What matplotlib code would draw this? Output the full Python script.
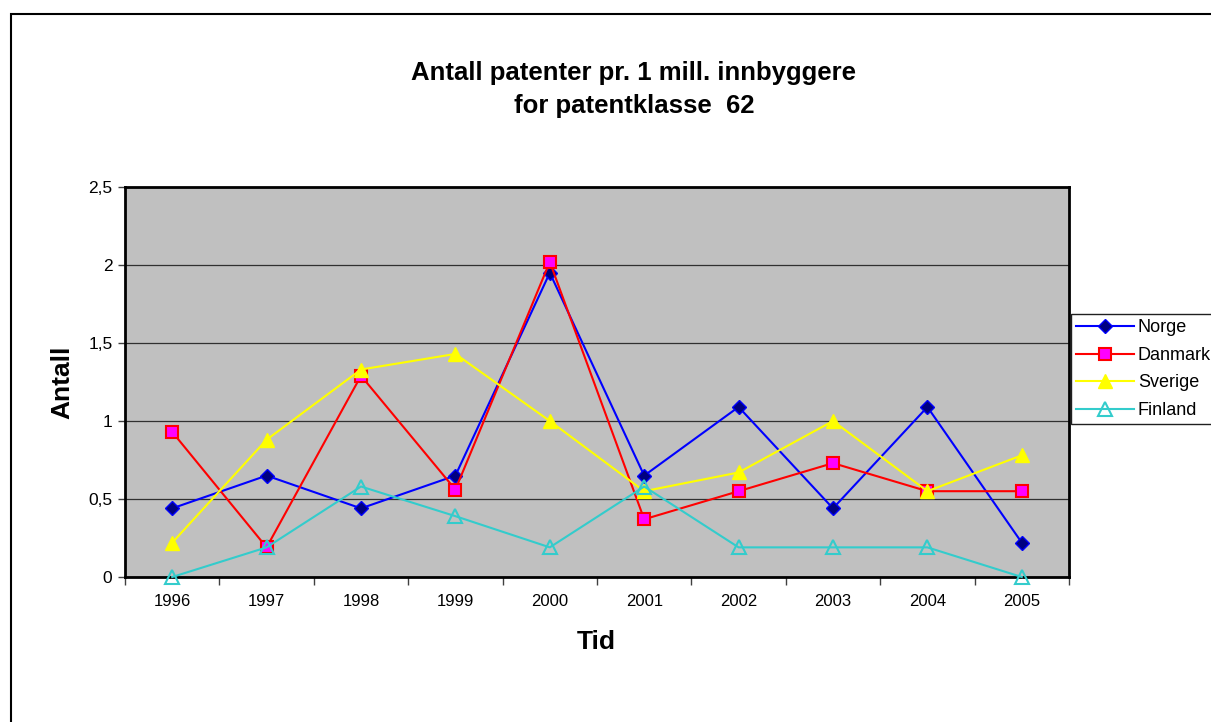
import matplotlib.pyplot as plt
from matplotlib.patches import Rectangle
import numpy as np

plt.rcParams['font.family'] = ['Liberation Sans', 'DejaVu Sans']

# --- Data ---
years = ['1996', '1997', '1998', '1999', '2000', '2001', '2002', '2003', '2004', '2005']
norge = [0.44, 0.65, 0.44, 0.65, 1.95, 0.65, 1.09, 0.44, 1.09, 0.22]
danmark = [0.93, 0.19, 1.29, 0.56, 2.02, 0.37, 0.55, 0.73, 0.55, 0.55]
sverige = [0.22, 0.88, 1.33, 1.43, 1.00, 0.55, 0.67, 1.00, 0.55, 0.78]
finland = [0.00, 0.19, 0.58, 0.39, 0.19, 0.58, 0.19, 0.19, 0.19, 0.00]
y_ticks = [0, 0.5, 1, 1.5, 2, 2.5]
y_labels = ['0', '0,5', '1', '1,5', '2', '2,5']

W, H = 1211, 722
fig = plt.figure(figsize=(W / 100, H / 100), dpi=100)

# chart area border (runs off the right and bottom edge)
fig.patches.append(Rectangle((11 / W, -0.05), 1.1, (H - 14) / H + 0.05,
                             transform=fig.transFigure, fill=False,
                             edgecolor='black', linewidth=1.5))

ax = fig.add_axes([125 / W, (H - 577) / H, 944 / W, 390 / H])
ax.set_facecolor('#C0C0C0')

x = np.arange(len(years))
ax.plot(x, norge, color='#0000FF', lw=1.5, marker='D', ms=7.5,
        mfc='#000080', mec='#0000FF', label='Norge', clip_on=False, zorder=4)
ax.plot(x, danmark, color='#FF0000', lw=1.5, marker='s', ms=8,
        mfc='#FF00FF', mec='#FF0000', mew=1.5, label='Danmark', clip_on=False, zorder=4)
ax.plot(x, sverige, color='#FFFF00', lw=1.5, marker='^', ms=9.5,
        mfc='#FFFF00', mec='#FFFF00', label='Sverige', clip_on=False, zorder=4)
ax.plot(x, finland, color='#33CCCC', lw=1.5, marker='^', ms=9.5,
        mfc='none', mec='#33CCCC', mew=1.5, label='Finland', clip_on=False, zorder=4)

ax.set_xlim(-0.5, len(years) - 0.5)
ax.set_ylim(0, 2.5)

# Excel-style category axis: tick marks between categories
ax.set_xticks(np.arange(-0.5, len(years), 1.0))
ax.set_xticklabels([])
ax.set_xticks(x, minor=True)
ax.set_xticklabels(years, minor=True, fontsize=12)
ax.tick_params(axis='x', which='major', direction='out', length=6, width=1, color='#404040')
ax.tick_params(axis='x', which='minor', length=0, pad=12)

ax.set_yticks(y_ticks)
ax.set_yticklabels(y_labels, fontsize=12.5)
ax.tick_params(axis='y', direction='out', length=5, width=1, color='#404040', pad=4)

ax.grid(axis='y', color='#303030', linewidth=0.9)
ax.set_axisbelow(True)
for s in ax.spines.values():
    s.set_linewidth(2)
    s.set_color('black')

fig.text(634 / W, 1 - 73 / H, 'Antall patenter pr. 1 mill. innbyggere',
         ha='center', va='center', fontsize=18.5, fontweight='bold')
fig.text(634 / W, 1 - 106 / H, 'for patentklasse  62',
         ha='center', va='center', fontsize=18.5, fontweight='bold')
fig.text(62 / W, 1 - 382 / H, 'Antall', rotation=90,
         ha='center', va='center', fontsize=19, fontweight='bold')
fig.text(596 / W, 1 - 642 / H, 'Tid',
         ha='center', va='center', fontsize=19, fontweight='bold')

leg = fig.legend(loc='upper left', bbox_to_anchor=(1071 / W, 1 - 314 / H),
                 fontsize=13, frameon=True, fancybox=False, framealpha=1,
                 edgecolor='#202020', handlelength=3.2, handletextpad=0.2,
                 borderpad=0.3, labelspacing=0.58, borderaxespad=0)
leg.get_frame().set_linewidth(1)

fig.savefig('out.png', dpi=100)
